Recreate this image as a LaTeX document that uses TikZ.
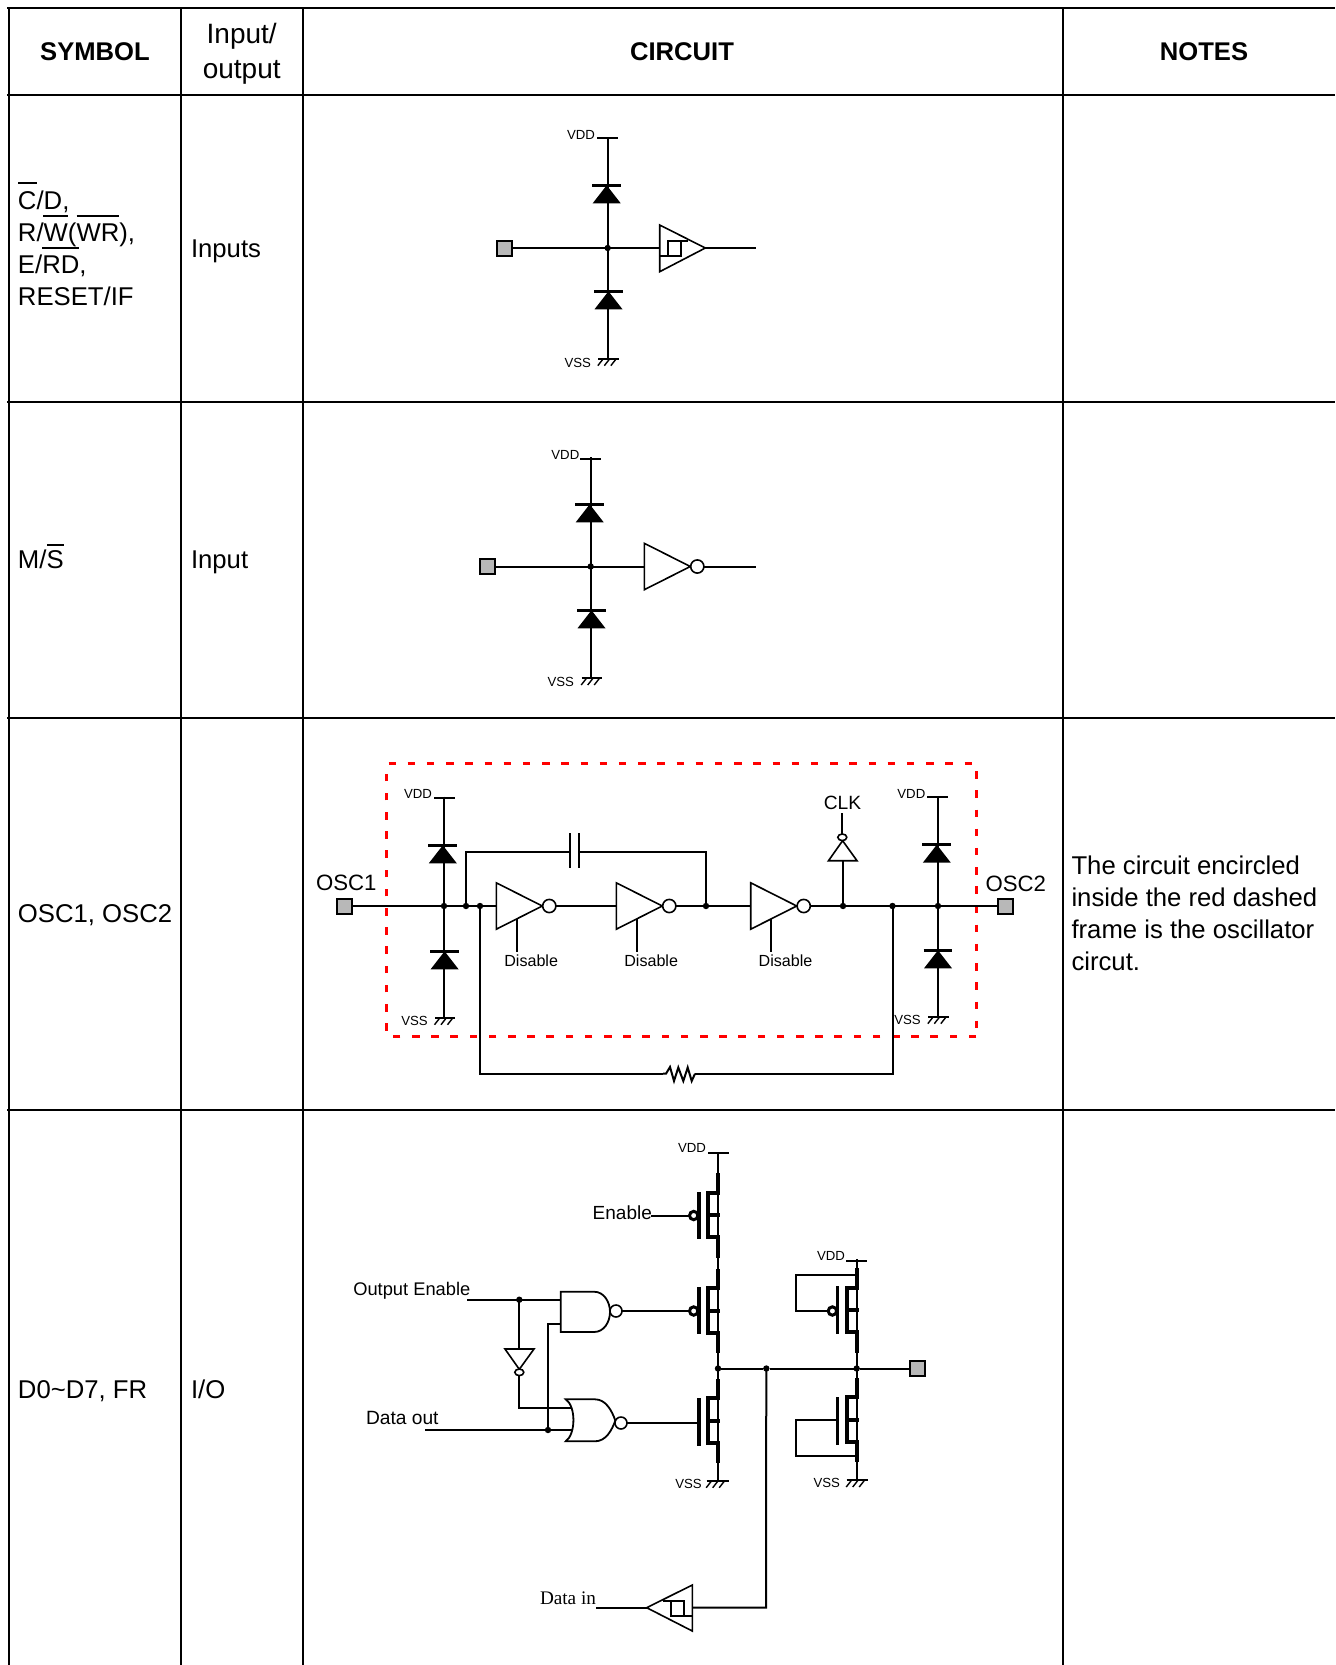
\documentclass[tikz,border=0pt]{standalone}
\usepackage{fontspec}
\setmainfont{Liberation Sans}
\newfontfamily\timesf{Liberation Serif}
\newcommand{\fsz}[1]{\fontsize{#1}{#1}\selectfont}
\tikzset{
 wire/.style={line width=1pt,line cap=butt,line join=miter},
 grid/.style={line width=1pt},
 gatebody/.style={line width=.8pt,fill=white,line join=miter},
 barline/.style={line width=1.35pt},
 thick mos/.style={line width=2pt,line join=miter},
 gatebar/.style={line width=1.6pt},
 thin mos/.style={line width=.9pt},
 hatch/.style={line width=.7pt},
 redbox/.style={line width=1.35pt,draw=redc,dash pattern=on 3.75pt off 5.85pt},
 jn/.style={circle,fill=black,inner sep=0pt,minimum size=3.2pt,outer sep=0pt},
 bub/.style={circle,draw=black,line width=.8pt,fill=white,inner sep=0pt,minimum size=6.6pt,outer sep=0pt},
 mbub/.style={circle,draw=black,line width=1.5pt,fill=white,inner sep=0pt,minimum size=4.2pt,outer sep=0pt},
 ebub/.style={ellipse,draw=black,line width=.8pt,fill=white,inner sep=0pt,minimum width=4.5pt,minimum height=3.3pt,outer sep=0pt},
 pad/.style={rectangle,draw=black,line width=1pt,fill=padg,inner sep=0pt,minimum size=7.5pt,outer sep=0pt},
 txt/.style={inner sep=0pt,outer sep=0pt},
 big/.style={txt,font=\fsz{12.85}},
 hdr/.style={txt,font=\fsz{12.8}\bfseries,anchor=base},
 tiny/.style={txt,font=\fsz{6.6},anchor=base east},
 dis/.style={txt,font=\fsz{8.05},anchor=base west},
}
\definecolor{redc}{RGB}{255,0,0}
\definecolor{padg}{RGB}{184,184,184}
\usetikzlibrary{shapes.geometric}
% diode: bar on top, solid triangle below
\newcommand{\diodeat}[3]{\begin{scope}[shift={(#1,#2)}]
 \draw[barline] (-14.4+#3,0)--(14.4+#3,0);
 \fill (#3,0)--(-14+#3,18)--(14+#3,18)--cycle;\end{scope}}
% ground: bar from x0 to x1 at y
\newcommand{\gndat}[3]{\draw[wire] (#1,#3)--(#2,#3);
 \begin{scope}[shift={(#1,#3)}]
 \draw[hatch] (5,0)--(-.5,7) (11.5,0)--(6,7) (18,0)--(12.5,7);\end{scope}}
% plain inverter: left edge x, axis y
\newcommand{\invat}[3]{\coordinate (#1-in) at (#2,#3);
 \begin{scope}[shift={(#2,#3)}]
 \draw[gatebody] (0,-23.2)--(0,23.2)--(46,0)--cycle;
 \node[bub] (#1-b) at (53,0) {};\end{scope}}
% inverter with disable pin
\newcommand{\invdis}[3]{\invat{#1}{#2}{#3}
 \coordinate (#1-d0) at (#2+20.7,#3+12.7);\coordinate (#1-d1) at (#2+20.7,#3+46);
 \draw[wire] (#1-d0)--(#1-d1);
 \node[dis] (#1-t) at (#2+8,#3+60.3) {Disable};}
% MOS stack: column x, thick top, knee top, knee bottom, thick bottom, left x, gate x
\newcommand{\mosat}[9]{\draw[thick mos] (#1,#2)--(#1,#3)--(#5,#3)--(#5,#4)--(#1,#4)--(#1,#9);
 \draw[thick mos] (#5,#6)--(#1+2,#6);
 \draw[gatebar] (#7,#8-23.7)--(#7,#8+23.7);}
\begin{document}
\begin{tikzpicture}[x=.5pt,y=-.5pt]
\useasboundingbox (0,0) rectangle (1335,1665);
\fill[white] (0,0) rectangle (1335,1665);
% ---- table
\draw[grid] (7,8)--(1335,8) (7,95)--(1335,95) (7,402)--(1335,402) (7,718)--(1335,718) (7,1110)--(1335,1110);
\draw[grid] (9,7.5)--(9,1665) (181,7.5)--(181,1665) (303,7.5)--(303,1665) (1063,7.5)--(1063,1665);
\node[hdr] (h1) at (95,60) {SYMBOL};
\node[big,font=\fsz{14},anchor=base] (h2a) at (241.7,43) {Input/};
\node[big,font=\fsz{14},anchor=base] (h2b) at (241.7,78) {output};
\node[hdr] (h3) at (682,60) {CIRCUIT};
\node[hdr] (h4) at (1204,60) {NOTES};
\node[big,anchor=base west] (s1a) at (18,209) {C/D,};
\node[big,anchor=base west] (s1b) at (18,241.2) {R/W(WR),};
\node[big,anchor=base west] (s1c) at (18,273) {E/RD,};
\node[big,anchor=base west] (s1d) at (18,305) {RESET/IF};
\draw[wire] (18.3,183.3)--(36.7,183.3) (43.3,215.7)--(67.7,215.7) (76.7,215.7)--(119,215.7) (42.3,248)--(79,248);
\node[big,anchor=base west] (io1) at (191,257.7) {Inputs};
\node[big,anchor=base west] (s2) at (18,568) {M/S};
\draw[wire] (47,544.5)--(64,544.5);
\node[big,anchor=base west] (io2) at (191,568) {Input};
\node[big,anchor=base west] (s3) at (18,922) {OSC1, OSC2};
\node[big,anchor=base west] (s4) at (18,1398) {D0\textasciitilde D7, FR};
\node[big,anchor=base west] (io4) at (191,1398) {I/O};
\node[big,anchor=base west] (n1) at (1071.5,874.6) {The circuit encircled};
\node[big,anchor=base west] (n2) at (1071.5,906.4) {inside the red dashed};
\node[big,anchor=base west] (n3) at (1071.5,938.2) {frame is the oscillator};
\node[big,anchor=base west] (n4) at (1071.5,970) {circut.};
% ---- row 1
\coordinate (r1v) at (607.7,138.3);\coordinate (r1g) at (607.7,358.7);
\draw[wire] (r1v)--(r1g);
\draw[wire] (597.3,138.3)--(617.7,138.3);
\node[tiny] (r1vt) at (595,139.8) {VDD};
\diodeat{607.7}{185.3}{-1}
\diodeat{607.7}{291.3}{.8}
\gndat{598.3}{619}{358.7}
\node[tiny] (r1st) at (591,367.2) {VSS};
\node[pad] (r1p) at (504.7,248) {};
\node[jn] (r1j) at (607.7,248) {};
\coordinate (r1in) at (659.7,248);
\draw[wire] (r1p)--(r1in);
\draw[gatebody] (659.7,225)--(659.7,271.7)--(705.3,248)--cycle;
\coordinate (r1tip) at (705.3,248);\coordinate (r1out) at (755.7,248);
\draw[wire] (r1tip)--(r1out);
\draw[wire] (659.7,255.7)--(680.7,255.7)--(680.7,241) (688,241)--(668.3,241)--(668.3,255.7);
% ---- row 2
\coordinate (r2v) at (590.7,457);\coordinate (r2g) at (590.7,678);
\draw[wire] (r2v)--(r2g);
\draw[wire] (580,458.7)--(600.7,458.7);
\node[tiny] (r2vt) at (579.3,459.2) {VDD};
\diodeat{590.7}{504.3}{-1}
\diodeat{590.7}{610.3}{.8}
\gndat{581.7}{601.7}{678}
\node[tiny] (r2st) at (574,686.2) {VSS};
\node[pad] (r2p) at (487.7,566.5) {};
\node[jn] (r2j) at (590.7,566.5) {};
\invat{r2i}{644.3}{566.5}
\draw[wire] (r2p)--(r2i-in);
\coordinate (r2out) at (755.7,566.5);
\draw[wire] (r2i-b)--(r2out);
% ---- row 3
\draw[redbox] (976.3,1036.3)--(386.7,1036.3)--(386.7,763.7)--(976.3,763.7)--cycle;
\node[pad] (p1) at (344.2,906) {};
\node[pad] (p2) at (1005.2,906) {};
\node[big,font=\fsz{11.1},anchor=base west] (osc1) at (316,890.3) {OSC1};
\node[big,font=\fsz{11.1},anchor=base west] (osc2) at (985.5,891.6) {OSC2};
\coordinate (lv) at (444,796.7);\coordinate (lg) at (444,1017.7);
\draw[wire] (lv)--(lg);
\draw[wire] (434.3,798)--(455,798);
\node[tiny] (lvt) at (432,798.5) {VDD};
\diodeat{444}{845.3}{-1.2}
\diodeat{444}{951.3}{.6}
\gndat{435}{455}{1017.7}
\node[tiny] (lst) at (427.7,1025.5) {VSS};
\coordinate (rv) at (938,797);\coordinate (rg) at (938,1016.7);
\draw[wire] (rv)--(rg);
\draw[wire] (927.3,797)--(948,797);
\node[tiny] (rvt) at (925.3,798.5) {VDD};
\diodeat{938}{844.7}{-1.2}
\diodeat{938}{950.3}{0}
\gndat{928.3}{948.7}{1016.7}
\node[tiny] (rst) at (920.7,1024.5) {VSS};
\invdis{a}{496.3}{906}
\invdis{b}{616.3}{906}
\invdis{c}{750.7}{906}
\node[jn] (j1) at (444,906) {};
\node[jn] (j2) at (466,906) {};
\node[jn] (j3) at (480,906) {};
\node[jn] (j4) at (706,906) {};
\node[jn] (j5) at (843,906) {};
\node[jn] (j6) at (892.5,906) {};
\node[jn] (j7) at (938,906) {};
\draw[wire] (p1)--(a-in);
\draw[wire] (a-b)--(b-in);
\draw[wire] (b-b)--(c-in);
\draw[wire] (c-b)--(p2);
% capacitor
\coordinate (capl) at (570,852);\coordinate (capr) at (578.7,852);
\draw[wire] (j2.center)--(466,852)--(capl);
\draw[wire] (capr)--(706,852)--(j4.center);
\draw[wire,line width=1.2pt] (570,833.3)--(570,867.7) (578.7,833.3)--(578.7,867.7);
% resistor
\coordinate (resl) at (663,1073.7);\coordinate (resr) at (695,1073.7);
\draw[wire] (j3.center)--(480,1073.7)--(resl);
\draw[wire] (resr)--(892.5,1073.7)--(j6.center);
\draw[wire] (resl)--(666,1073.7)--(670,1067)--(674,1081)--(678.3,1067.5)--(683.3,1081)--(687.7,1067.5)--(691.7,1081)--(resr);
% CLK
\coordinate (clkb) at (843,860.7);\coordinate (clkt) at (842.3,813.3);
\draw[wire] (j5.center)--(clkb);
\draw[gatebody] (828.5,860.7)--(857,860.7)--(842.6,840.7)--cycle;
\node[ebub] (clkbub) at (842.3,837.3) {};
\draw[wire] (clkt)--(clkbub);
\node[txt,font=\fsz{9.6},anchor=base] (clk) at (842.5,809) {CLK};
% ---- row 4
\coordinate (m1v) at (718,1153);\coordinate (m1g) at (718,1480.7);
\draw[line width=.85pt] (m1v)--(m1g);
\draw[wire] (708.3,1153)--(729,1153);
\node[tiny] (m1vt) at (706,1152.8) {VDD};
\mosat{718}{1173.3}{1192.7}{1237.3}{708.3}{1215}{699}{1215.5}{1257.7}
\mosat{718}{1269.3}{1288.3}{1333.3}{708.3}{1311}{699}{1310.7}{1353.3}
\mosat{718}{1379.3}{1398.3}{1443.3}{708.3}{1421}{699}{1421.8}{1463.3}
\gndat{706.7}{729}{1480.7}
\node[tiny] (m1st) at (701.7,1488.5) {VSS};
\node[mbub] (e1b) at (693.7,1215.5) {};
\node[mbub] (e2b) at (693.7,1311) {};
\node[txt,font=\fsz{9.5},anchor=base west] (en) at (592.7,1219) {Enable};
\coordinate (enw) at (651,1215.5);
\draw[wire] (enw)--(e1b);
% right MOS
\coordinate (m2v) at (856.7,1259.3);\coordinate (m2g) at (856.7,1480);
\draw[line width=.85pt] (m2v)--(m2g);
\draw[wire] (846,1261)--(866.7,1261);
\node[tiny] (m2vt) at (845,1260.5) {VDD};
\mosat{856.7}{1268.3}{1288.3}{1331.7}{846.7}{1310}{837.7}{1310}{1352.7}
\mosat{856.7}{1378.3}{1397.3}{1442.3}{847.3}{1420}{837.7}{1420.8}{1462.3}
\gndat{846.7}{867.7}{1480}
\node[tiny] (m2st) at (840,1487.8) {VSS};
\node[mbub] (r1b) at (832.4,1311) {};
\draw[wire] (856,1275)--(796,1275)--(796,1311)--(r1b);
\draw[wire] (837.7,1420)--(796,1420)--(796,1455.7)--(856.7,1455.7);
% output bus
\node[jn] (o1) at (718,1368.5) {};
\node[jn] (o2) at (766.3,1368.5) {};
\node[jn] (o3) at (856.7,1368.5) {};
\node[pad] (p3) at (917.3,1368.5) {};
\draw[wire] (o1)--(o2);\draw[wire] (o2)--(o3);\draw[wire] (o3)--(p3);
% NAND
\draw[gatebody,line width=.9pt] (594,1291.7) .. controls (604,1291.7) and (610,1302) .. (610,1311.8) .. controls (610,1322) and (604,1332) .. (594,1332)--(560.7,1332)--(560.7,1291.7)--cycle;
\node[bub,minimum size=6pt] (nandb) at (616,1311) {};
\draw[wire] (nandb)--(e2b);
% NOR
\draw[gatebody,line width=.9pt] (565.7,1399.3)--(595,1399.3) .. controls (606,1399.3) and (612,1411) .. (615.3,1420.5) .. controls (612,1430) and (606,1441.3) .. (595,1441.3)--(565.7,1441.3) .. controls (576,1434) and (576,1406) .. (565.7,1399.3)--cycle;
\node[bub,minimum size=6pt] (norb) at (621,1423) {};
\coordinate (g3) at (699,1423);
\draw[wire] (norb)--(g3);
% inputs
\node[jn] (oej) at (519.3,1299.7) {};
\node[jn] (dj) at (548,1430) {};
\coordinate (oes) at (467.3,1299.7);\coordinate (oee) at (560.7,1299.7);
\draw[wire] (oes)--(oee);
\node[txt,font=\fsz{9.15},anchor=base west] (oet) at (353.3,1295.8) {Output Enable};
\coordinate (ds) at (425,1430);\coordinate (de) at (572.5,1430);
\draw[wire] (ds)--(de);
\node[txt,font=\fsz{9.6},anchor=base west] (dot) at (366,1424) {Data out};
\draw[wire] (560.7,1323.7)--(548,1323.7)--(dj.center);
\coordinate (invt) at (519.3,1349);
\draw[wire] (oej.center)--(invt);
\draw[gatebody] (505,1349)--(534,1349)--(519.3,1369.3)--cycle;
\node[ebub] (invb) at (519.3,1372.3) {};
\coordinate (nori) at (572,1407.7);
\draw[wire] (invb)--(519.3,1407.7)--(nori);
% Data in
\coordinate (stip) at (646.7,1607.7);\coordinate (sback) at (692.3,1607.7);\coordinate (dis) at (596,1607.7);
\draw[wire] (o2.center)--(766,1607.7)--(sback);
\draw[gatebody] (692.3,1585)--(692.3,1631)--(646.7,1607.7)--cycle;
\draw[wire] (stip)--(dis);
\draw[wire] (692.3,1616)--(670.7,1616)--(670.7,1600.7) (662.7,1600.7)--(684.3,1600.7)--(684.3,1616);
\node[txt,font=\timesf\fsz{9.6},anchor=base west] (dit) at (540,1604) {Data in};
\end{tikzpicture}
\end{document}
